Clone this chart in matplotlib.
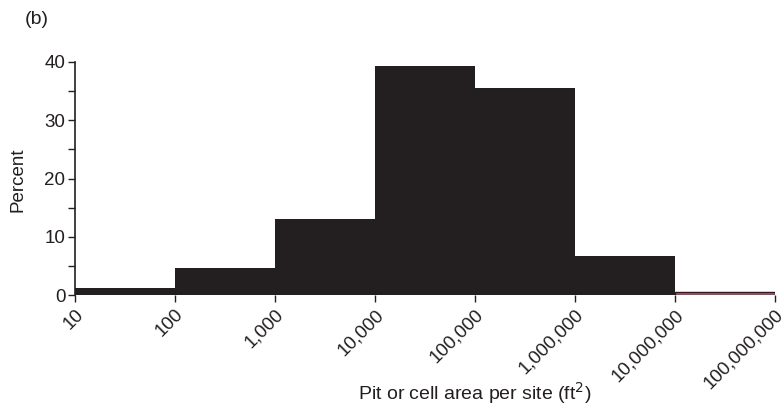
import matplotlib
matplotlib.use("Agg")
import matplotlib.pyplot as plt
from matplotlib.ticker import FixedLocator
from matplotlib.transforms import ScaledTranslation

plt.rcParams['font.family'] = ['Liberation Sans', 'DejaVu Sans']

bin_edges = [10, 100, 1000, 10000, 100000, 1000000, 10000000, 100000000]
percents = [1.2, 4.6, 13.0, 39.3, 35.5, 6.7, 0.5]
tick_labels = ["10", "100", "1,000", "10,000", "100,000", "1,000,000", "10,000,000", "100,000,000"]
bar_colors = ["#231f20"] * 6 + ["#b05a6a"]
ink = "#231f20"

fig = plt.figure(figsize=(7.81, 4.12), dpi=100)
ax = fig.add_axes([75/781, (412-295)/412, 700/781, (295-62)/412])

for i in range(len(percents)):
    left = bin_edges[i]
    w = bin_edges[i+1] - bin_edges[i]
    ax.bar(left, percents[i], width=w, align='edge', color=bar_colors[i],
           edgecolor=ink, linewidth=1.0 if i == 6 else 0)

ax.set_xscale('log')
ax.set_xlim(10, 1e8)
ax.set_ylim(0, 40)
ax.xaxis.set_major_locator(FixedLocator(bin_edges))
ax.xaxis.set_minor_locator(FixedLocator([]))
ax.set_xticklabels(tick_labels, rotation=45, ha='right', rotation_mode='anchor',
                   fontsize=13.5, color=ink)
offset = ScaledTranslation(4/72, -4/72, fig.dpi_scale_trans)
for lab in ax.get_xticklabels():
    lab.set_transform(lab.get_transform() + offset)
ax.set_yticks([0, 10, 20, 30, 40])
ax.set_yticks([5, 15, 25, 35], minor=True)
ax.tick_params(axis='y', which='both', direction='out', length=5, width=1, labelsize=13.5,
               color=ink, labelcolor=ink, pad=2)
ax.tick_params(axis='x', which='both', direction='out', length=5, width=1, color=ink, pad=3)
for s in ['top', 'right']:
    ax.spines[s].set_visible(False)
ax.spines['bottom'].set_visible(False)
ax.spines['left'].set_color(ink)
ax.spines['left'].set_linewidth(1.2)

fig.text(18/781, 1 - 180/412, "Percent", fontsize=13.5, ha='center', va='center',
         rotation=90, color=ink)
fig.text(475/781, 1 - 393/412, "Pit or cell area per site (ft$^2$)", fontsize=14,
         ha='center', va='center', color=ink)
fig.text(25/781, 1 - 20/412, "(b)", fontsize=14, ha='left', va='center', color=ink)

fig.savefig("out.png", dpi=100)
